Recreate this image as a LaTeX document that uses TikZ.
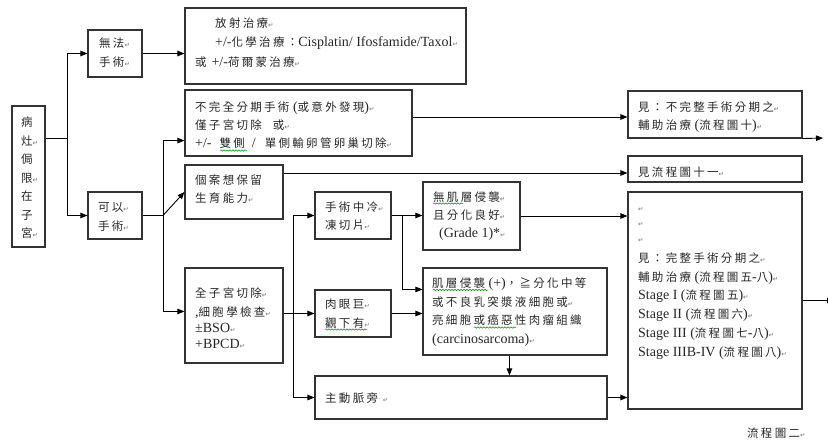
\documentclass[tikz,border=0pt]{standalone}
\usepackage{fontspec}
\setmainfont{Liberation Serif}
\newfontfamily\cjkf[LetterSpace=20]{Noto Sans CJK TC}
\newfontfamily\latf{Liberation Serif}
\newfontfamily\markf{DejaVu Sans}
\usetikzlibrary{arrows.meta,calc,decorations.pathmorphing}

% body text: CJK face with wide tracking, Latin runs in a Times-like face
\newcommand\cjkbody{\cjkf\fontsize{11.5}{18.7}\selectfont}
\newcommand\latn[1]{{\latf\fontsize{14}{18.7}\selectfont #1}}
\newcommand\retmk{{\markf\fontsize{6.5}{6.5}\selectfont\textcolor{black!55}{↵}}}
\newcommand\firstln{\rule{0pt}{13pt}}

\tikzset{
  box/.style={draw=black!80, line width=1.1pt, rectangle, inner sep=0pt},
  arr/.style={draw=black, line width=0.9pt, -{Triangle[length=7pt,width=5.5pt]}},
  wire/.style={draw=black, line width=0.9pt},
  txt/.style={inner sep=0pt, anchor=north west, align=left, font=\cjkbody, text=black!85},
  wavy/.style={draw=green!55!black, line width=0.5pt,
    decorate, decoration={snake, segment length=3pt, amplitude=0.7pt}},
}

\begin{document}
\begin{tikzpicture}[x=1pt, y=-1pt]
\useasboundingbox (0,0) rectangle (828,441);

% ---------- boxes ----------
\node[box, minimum width=33pt,  minimum height=141pt] (L)  at (28.5,176.5) {};
\node[box, minimum width=54pt,  minimum height=47pt]  (A)  at (115,53.5)   {};
\node[box, minimum width=54pt,  minimum height=47pt]  (B)  at (115,215.5)  {};
\node[box, minimum width=281pt, minimum height=76pt]  (R1) at (325.5,46)   {};
\node[box, minimum width=227pt, minimum height=66pt]  (R2) at (298.5,123)  {};
\node[box, minimum width=98pt,  minimum height=54pt]  (R3) at (234,192)    {};
\node[box, minimum width=98pt,  minimum height=95pt]  (R4) at (234,315.5)  {};
\node[box, minimum width=76pt,  minimum height=47pt]  (F)  at (353,215.5)  {};
\node[box, minimum width=76pt,  minimum height=47pt]  (G)  at (353,313.5)  {};
\node[box, minimum width=292pt, minimum height=43pt]  (P)  at (461,397.5)  {};
\node[box, minimum width=97pt,  minimum height=68pt]  (M1) at (471.5,216)  {};
\node[box, minimum width=184pt, minimum height=87pt]  (M2) at (515,311.5)  {};
\node[box, minimum width=174pt, minimum height=47pt]  (S1) at (715,114.5)  {};
\node[box, minimum width=174pt, minimum height=26pt]  (S2) at (715,169)    {};
\node[box, minimum width=174pt, minimum height=217pt] (S3) at (715,300.5)  {};

% ---------- texts ----------
\node[txt] (tL) at (21,113.3) {\firstln 病\\灶\retmk\\[-0.2pt]侷\\[-0.2pt]限\retmk\\[-0.2pt]在\\[-0.2pt]子\\[-0.2pt]宮\retmk};
\node[txt] (tA) at (99,34.3) {\firstln 無法\retmk\\[0.8pt]手術\retmk};
\node[txt] (tB) at (98,198.3) {\firstln 可以\retmk\\[0.3pt]手術\retmk};
\node[txt] (tR1) at (195,14.3) {\firstln\hspace*{20pt}放射治療\retmk\\[0.8pt]
  \hspace*{20pt}\latn{+/-}化學治療：\latn{Cisplatin/ Ifosfamide/Taxol}\retmk\\[0.8pt]
  或 \latn{+/-}荷爾蒙治療\retmk};
\node[txt] (tR2) at (195,98.3) {\firstln 不完全分期手術\latn{ (}或意外發現\latn{)}\retmk\\[-0.7pt]
  僅子宮切除\hspace{11pt}或\retmk\\[-0.7pt]
  \latn{+/-}\hspace{8pt}雙側\hspace{7pt}\latn{/}\hspace{9pt}單側輸卵管卵巢切除\retmk};
\node[txt] (tR3) at (195,171.3) {\firstln 個案想保留\\[-0.7pt]生育能力\retmk};
\node[txt] (tR4) at (195,284.3) {\firstln 全子宮切除\retmk\\[0.3pt]
  \latn{,}細胞學檢查\retmk\\[-2.7pt]
  \latn{±BSO}\retmk\\[-2.7pt]
  \latn{+BPCD}\retmk};
\node[txt] (tF) at (325,198.3) {\firstln 手術中冷\retmk\\[-0.7pt]凍切片\retmk};
\node[txt] (tG) at (325,295.3) {\firstln 肉眼巨\retmk\\[0.3pt]觀下有\retmk};
\node[txt] (tP) at (325,389.3) {\firstln 主動脈旁 \retmk};
\node[txt] (tM1) at (433,188.3) {\firstln 無肌層侵襲\retmk\\[-0.7pt]
  且分化良好\retmk\\[-0.7pt]
  \hspace*{6pt}\latn{(Grade 1)*}\retmk};
\node[txt] (tM2) at (432,274.3) {\firstln 肌層侵襲\latn{ (+)}，≧分化中等\\[0pt]
  或不良乳突漿液細胞或\retmk\\
  亮細胞或癌惡性肉瘤組織\\[-0.5pt]
  \latn{(carcinosarcoma)}\retmk};
\node[txt] (tS1) at (638,98.3) {\firstln 見：不完整手術分期之\retmk\\[-0.7pt]
  輔助治療\latn{ (}流程圖十\latn{)}\retmk};
\node[txt] (tS2) at (638,163.3) {\firstln 見流程圖十一\retmk};
\node[txt] (tS3) at (638,198.3) {\firstln\retmk\\[-3.7pt]\retmk\\[-2.7pt]\retmk\\[1.3pt]
  見：完整手術分期之\retmk\\
  輔助治療\latn{ (}流程圖五\latn{-}八\latn{)}\retmk\\
  \latn{Stage I (}流程圖五\latn{)}\retmk\\
  \latn{Stage II (}流程圖六\latn{)}\retmk\\
  \latn{Stage III (}流程圖七\latn{-}八\latn{)}\retmk\\
  \latn{Stage IIIB-IV (}流程圖八\latn{)}\retmk};
\node[txt] (tCap) at (747,424.3) {\firstln 流程圖二\retmk};

% ---------- spell-check squiggles ----------
\draw[wavy] (220,150.5) -- (247,150.5);
\draw[wavy] (325,329.5) -- (367,329.5);
\draw[wavy] (433,203.5) -- (463,203.5);
\draw[wavy] (433,290) -- (488,290);
\draw[wavy] (474,327.5) -- (516,327.5);

% ---------- junctions ----------
\coordinate (j1) at (67,138);
\coordinate (j2) at (163,215.5);
\coordinate (j3) at (293,313.5);
\coordinate (j4) at (402,215.5);
\coordinate (m2b) at ($(M2.south west)+(87,0)$);
\coordinate (yR2) at (0,117);
\coordinate (yR3) at (0,173);
\coordinate (e1) at (823,138);
\coordinate (e2) at (834,300.5);

% ---------- connectors ----------
\draw[wire] (L.east |- j1) -- (j1);
\draw[arr] (j1) |- (A.west);
\draw[arr] (j1) |- (B.west);
\draw[arr] (A.east) -- (R1.west |- A.east);

\draw[wire] (B.east) -- (j2);
\draw[arr] (j2) -- (R3.west);
\draw[arr] (j2) |- ($(R2.south west)+(0,-16)$);
\draw[arr] (j2) |- ($(R4.north west)+(0,44)$);

\draw[arr] (R2.east |- yR2) -- (S1.west |- yR2);
\draw[arr] (R3.east |- yR3) -- (S2.west |- yR3);

\draw[wire] (R4.east |- j3) -- (j3);
\draw[arr] (j3) |- (F.west);
\draw[arr] (j3) -- (G.west);
\draw[arr] (j3) |- (P.west);

\draw[arr] (F.east) -- (F.east -| M1.west);
\draw[arr] (j4) |- ($(M2.north west)+(0,22)$);
\draw[arr] (G.east) -- (G.east -| M2.west);

\draw[arr] (M1.east) -- (M1.east -| S3.west);
\draw[arr] (m2b) -- (m2b |- P.north);
\draw[arr] (P.east) -- (P.east -| S3.west);

\draw[arr] (S1.south east) -- (e1);
\draw[arr] (S3.east) -- (e2);
\end{tikzpicture}
\end{document}
